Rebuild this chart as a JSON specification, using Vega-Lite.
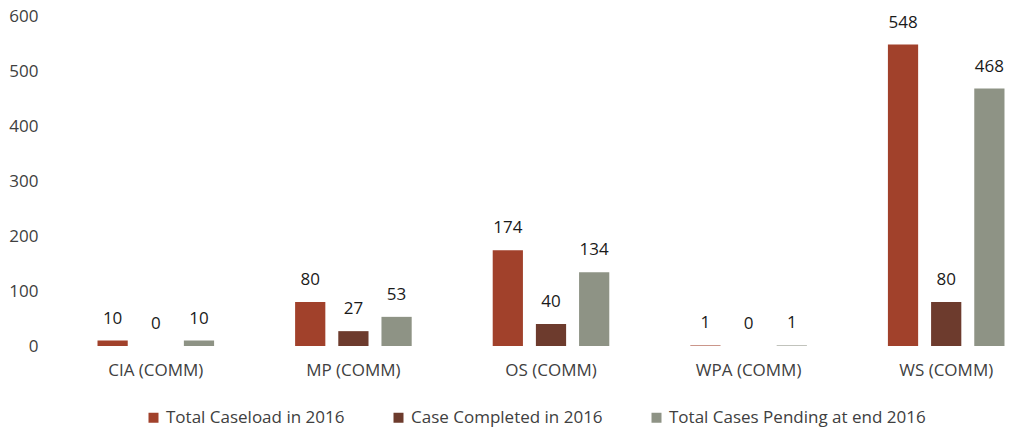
{
  "$schema": "https://vega.github.io/schema/vega-lite/v6.json",
  "width": 988,
  "height": 330,
  "autosize": {"type": "none"},
  "padding": {"left": 57, "top": 16, "right": 0, "bottom": 85},
  "background": "white",
  "config": {
    "view": {"stroke": null},
    "font": "Open Sans",
    "axis": {"labelFont": "Open Sans", "labelFontSize": 17, "labelColor": "#404040", "grid": false, "domain": false, "ticks": false},
    "legend": {"labelFont": "Open Sans", "labelFontSize": 17, "labelColor": "#404040", "labelLimit": 400}
  },
  "data": {
    "values": [
      {"cat": "CIA (COMM)", "series": "Total Caseload in 2016", "value": 10},
      {"cat": "CIA (COMM)", "series": "Case Completed in 2016", "value": 0},
      {"cat": "CIA (COMM)", "series": "Total Cases Pending at end 2016", "value": 10},
      {"cat": "MP (COMM)", "series": "Total Caseload in 2016", "value": 80},
      {"cat": "MP (COMM)", "series": "Case Completed in 2016", "value": 27},
      {"cat": "MP (COMM)", "series": "Total Cases Pending at end 2016", "value": 53},
      {"cat": "OS (COMM)", "series": "Total Caseload in 2016", "value": 174},
      {"cat": "OS (COMM)", "series": "Case Completed in 2016", "value": 40},
      {"cat": "OS (COMM)", "series": "Total Cases Pending at end 2016", "value": 134},
      {"cat": "WPA (COMM)", "series": "Total Caseload in 2016", "value": 1},
      {"cat": "WPA (COMM)", "series": "Case Completed in 2016", "value": 0},
      {"cat": "WPA (COMM)", "series": "Total Cases Pending at end 2016", "value": 1},
      {"cat": "WS (COMM)", "series": "Total Caseload in 2016", "value": 548},
      {"cat": "WS (COMM)", "series": "Case Completed in 2016", "value": 80},
      {"cat": "WS (COMM)", "series": "Total Cases Pending at end 2016", "value": 468}
    ]
  },
  "encoding": {
    "x": {
      "field": "cat", "type": "nominal", "sort": null, "title": null,
      "scale": {"paddingInner": 0.41, "paddingOuter": 0.205},
      "axis": {"labelAngle": 0, "labelPadding": 16}
    },
    "xOffset": {
      "field": "series", "type": "nominal",
      "sort": ["Total Caseload in 2016", "Case Completed in 2016", "Total Cases Pending at end 2016"],
      "scale": {"paddingInner": 0.3, "paddingOuter": 0}
    },
    "y": {
      "field": "value", "type": "quantitative", "title": null,
      "scale": {"domain": [0, 600], "nice": false},
      "axis": {"values": [0, 100, 200, 300, 400, 500, 600], "labelPadding": 19}
    }
  },
  "layer": [
    {
      "mark": {"type": "bar"},
      "encoding": {
        "color": {
          "field": "series", "type": "nominal",
          "sort": ["Total Caseload in 2016", "Case Completed in 2016", "Total Cases Pending at end 2016"],
          "scale": {"domain": ["Total Caseload in 2016", "Case Completed in 2016", "Total Cases Pending at end 2016"], "range": ["#a1412b", "#6d3b2d", "#8e9385"]},
          "legend": {"orient": "none", "legendX": 88, "legendY": 393, "direction": "horizontal", "title": null, "symbolType": "square", "symbolSize": 100, "symbolStrokeWidth": 0, "columnPadding": 45, "labelOffset": 4}
        }
      }
    },
    {
      "mark": {"type": "text", "baseline": "bottom", "dy": -13, "fontSize": 17, "color": "#1a1a1a"},
      "encoding": {"text": {"field": "value", "type": "quantitative"}}
    }
  ]
}
